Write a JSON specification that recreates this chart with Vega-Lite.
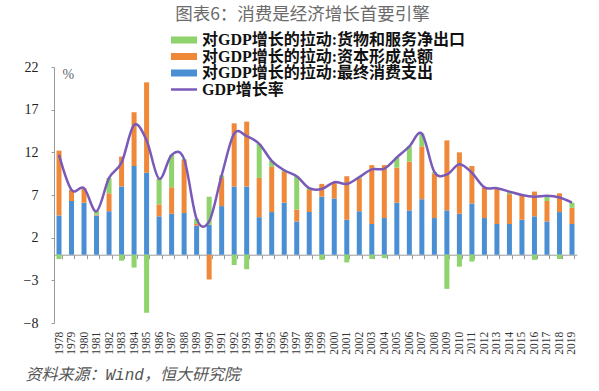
{
  "$schema": "https://vega.github.io/schema/vega-lite/v6.json",
  "width": 523,
  "height": 256,
  "autosize": {"type": "none"},
  "padding": {"left": 54, "top": 67, "right": 22, "bottom": 68},
  "background": "white",
  "config": {"view": {"stroke": null}},
  "title": {
    "text": "图表6：消费是经济增长首要引擎",
    "font": "Noto Sans CJK SC",
    "fontSize": 17.5,
    "fontWeight": "normal",
    "color": "#6b6b6b",
    "anchor": "middle",
    "frame": "group",
    "dx": -13,
    "offset": 9
  },
  "datasets": {
    "china": [
      {"year": 1978, "consume": 4.6, "invest": 7.6, "netExport": -0.5, "gdp": 11.7},
      {"year": 1979, "consume": 6.3, "invest": 1.3, "netExport": 0.0, "gdp": 7.6},
      {"year": 1980, "consume": 6.1, "invest": 1.7, "netExport": 0.0, "gdp": 7.8},
      {"year": 1981, "consume": 4.6, "invest": 0.1, "netExport": 0.4, "gdp": 5.1},
      {"year": 1982, "consume": 5.1, "invest": 2.1, "netExport": 1.8, "gdp": 9.0},
      {"year": 1983, "consume": 8.0, "invest": 3.5, "netExport": -0.7, "gdp": 10.8},
      {"year": 1984, "consume": 10.4, "invest": 6.3, "netExport": -1.5, "gdp": 15.2},
      {"year": 1985, "consume": 9.6, "invest": 10.6, "netExport": -6.8, "gdp": 13.4},
      {"year": 1986, "consume": 4.5, "invest": 1.4, "netExport": 3.0, "gdp": 8.9},
      {"year": 1987, "consume": 4.8, "invest": 3.1, "netExport": 3.8, "gdp": 11.7},
      {"year": 1988, "consume": 4.9, "invest": 6.2, "netExport": 0.1, "gdp": 11.2},
      {"year": 1989, "consume": 3.4, "invest": 0.2, "netExport": 0.6, "gdp": 4.2},
      {"year": 1990, "consume": 3.5, "invest": -2.9, "netExport": 3.3, "gdp": 3.9},
      {"year": 1991, "consume": 5.7, "invest": 3.3, "netExport": 0.3, "gdp": 9.3},
      {"year": 1992, "consume": 8.0, "invest": 7.4, "netExport": -1.2, "gdp": 14.2},
      {"year": 1993, "consume": 8.0, "invest": 7.6, "netExport": -1.7, "gdp": 13.9},
      {"year": 1994, "consume": 4.4, "invest": 4.6, "netExport": 4.0, "gdp": 13.0},
      {"year": 1995, "consume": 5.0, "invest": 5.3, "netExport": 0.7, "gdp": 11.0},
      {"year": 1996, "consume": 6.1, "invest": 3.6, "netExport": 0.2, "gdp": 9.9},
      {"year": 1997, "consume": 3.9, "invest": 1.4, "netExport": 3.9, "gdp": 9.2},
      {"year": 1998, "consume": 5.0, "invest": 2.6, "netExport": 0.2, "gdp": 7.8},
      {"year": 1999, "consume": 6.8, "invest": 1.5, "netExport": -0.6, "gdp": 7.7},
      {"year": 2000, "consume": 6.6, "invest": 1.9, "netExport": 0.0, "gdp": 8.5},
      {"year": 2001, "consume": 4.1, "invest": 5.1, "netExport": -0.9, "gdp": 8.3},
      {"year": 2002, "consume": 5.1, "invest": 3.8, "netExport": 0.2, "gdp": 9.1},
      {"year": 2003, "consume": 3.6, "invest": 6.9, "netExport": -0.5, "gdp": 10.0},
      {"year": 2004, "consume": 4.3, "invest": 6.2, "netExport": -0.4, "gdp": 10.1},
      {"year": 2005, "consume": 6.1, "invest": 4.1, "netExport": 1.2, "gdp": 11.4},
      {"year": 2006, "consume": 5.2, "invest": 5.7, "netExport": 1.8, "gdp": 12.7},
      {"year": 2007, "consume": 6.5, "invest": 6.2, "netExport": 1.5, "gdp": 14.2},
      {"year": 2008, "consume": 4.3, "invest": 5.2, "netExport": 0.2, "gdp": 9.7},
      {"year": 2009, "consume": 5.2, "invest": 8.2, "netExport": -4.0, "gdp": 9.4},
      {"year": 2010, "consume": 4.8, "invest": 7.2, "netExport": -1.4, "gdp": 10.6},
      {"year": 2011, "consume": 6.0, "invest": 4.4, "netExport": -0.8, "gdp": 9.6},
      {"year": 2012, "consume": 4.3, "invest": 3.6, "netExport": 0.0, "gdp": 7.9},
      {"year": 2013, "consume": 3.6, "invest": 4.2, "netExport": 0.0, "gdp": 7.8},
      {"year": 2014, "consume": 3.6, "invest": 3.5, "netExport": 0.3, "gdp": 7.4},
      {"year": 2015, "consume": 4.1, "invest": 2.9, "netExport": 0.0, "gdp": 7.0},
      {"year": 2016, "consume": 4.5, "invest": 2.9, "netExport": -0.6, "gdp": 6.8},
      {"year": 2017, "consume": 3.9, "invest": 2.4, "netExport": 0.6, "gdp": 6.9},
      {"year": 2018, "consume": 5.0, "invest": 2.2, "netExport": -0.5, "gdp": 6.7},
      {"year": 2019, "consume": 3.6, "invest": 1.9, "netExport": 0.6, "gdp": 6.1}
    ]
  },
  "data": {"name": "china"},
  "layer": [
    {
      "transform": [{"fold": ["consume", "invest", "netExport"], "as": ["series", "value"]}],
      "mark": {"type": "bar"},
      "encoding": {
        "x": {
          "field": "year",
          "type": "ordinal",
          "scale": {"paddingInner": 0.6, "paddingOuter": 0.2},
          "axis": {
            "title": "资料来源：Wind，恒大研究院",
            "offset": -68.3,
            "labelAngle": 270,
            "labelFont": "Liberation Serif",
            "labelFontSize": 11.5,
            "labelColor": "#333333",
            "labelPadding": 72.5,
            "labelOverlap": false,
            "tickSize": 4,
            "tickBand": "extent",
            "tickColor": "#9a9a9a",
            "domainColor": "#9a9a9a",
            "titleFont": "Liberation Mono, Noto Sans CJK SC",
            "titleFontSize": 16,
            "titleFontStyle": "italic",
            "titleFontWeight": "normal",
            "titleColor": "#555555",
            "titleAnchor": "start",
            "titleAlign": "left",
            "titleBaseline": "middle",
            "titleX": -29,
            "titleY": 120
          }
        },
        "y": {
          "field": "value",
          "type": "quantitative",
          "stack": "zero",
          "scale": {"domain": [-8, 22], "nice": false, "zero": false},
          "axis": {
            "values": [-8, -3, 2, 7, 12, 17, 22],
            "grid": false,
            "title": "%",
            "titleAngle": 0,
            "titleX": 8,
            "titleY": 7,
            "titleAlign": "left",
            "titleBaseline": "middle",
            "titleFont": "Liberation Serif",
            "titleFontSize": 14,
            "titleFontWeight": "normal",
            "titleColor": "#666666",
            "labelFont": "Liberation Serif",
            "labelFontSize": 14,
            "labelColor": "#222222",
            "labelPadding": 13,
            "tickSize": 3,
            "tickColor": "#9a9a9a",
            "domainColor": "#9a9a9a"
          }
        },
        "color": {
          "field": "series",
          "type": "nominal",
          "scale": {
            "domain": ["netExport", "invest", "consume", "gdp"],
            "range": ["#8ED36B", "#F0883A", "#4A8FD4", "#7A5AB8"]
          },
          "legend": {
            "orient": "none",
            "legendX": 114,
            "legendY": -35,
            "title": null,
            "padding": 0,
            "labelFont": "Liberation Serif, Noto Sans CJK SC",
            "labelFontSize": 16,
            "labelFontWeight": "bold",
            "labelColor": "#111111",
            "labelLimit": 400,
            "labelOffset": 18,
            "rowPadding": 0.5,
            "symbolSize": 100,
            "symbolType": "M-1,-0.7H4.2V0.7H-1Z",
            "symbolStrokeWidth": 0,
            "labelExpr": "{'netExport': '对GDP增长的拉动:货物和服务净出口', 'invest': '对GDP增长的拉动:资本形成总额', 'consume': '对GDP增长的拉动:最终消费支出', 'gdp': 'GDP增长率'}[datum.value]",
            "encode": {
              "symbols": {
                "update": {
                  "shape": {"signal": "datum.value === 'gdp' ? 'M-1,-0.25H4.2V0.25H-1Z' : 'M-1,-0.7H4.2V0.7H-1Z'"},
                  "fill": {"scale": "color", "field": "value"},
                  "strokeWidth": {"value": 0},
                  "opacity": {"value": 1}
                }
              }
            }
          }
        },
        "order": {"field": "series", "sort": "ascending"}
      }
    },
    {
      "mark": {"type": "line", "interpolate": "cardinal", "strokeWidth": 2.5},
      "encoding": {
        "x": {"field": "year", "type": "ordinal"},
        "y": {"field": "gdp", "type": "quantitative"},
        "color": {"datum": "gdp"}
      }
    }
  ]
}
